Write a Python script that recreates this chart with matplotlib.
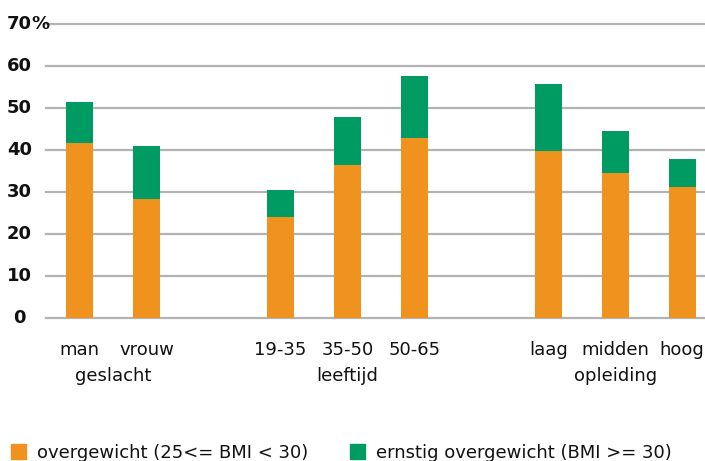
import matplotlib.pyplot as plt
import matplotlib.transforms as mtransforms
from matplotlib.patches import Patch

# categorieen en waarden (%)
labels = ["man", "vrouw", "19-35", "35-50", "50-65", "laag", "midden", "hoog"]
groepen = ["geslacht", "leeftijd", "opleiding"]
overgewicht = [41.7, 28.3, 24.0, 36.4, 42.9, 39.8, 34.5, 31.2]
ernstig = [9.7, 12.7, 6.5, 11.5, 14.7, 15.9, 10.0, 6.7]
yticks = [0, 10, 20, 30, 40, 50, 60, 70]

oranje = "#F0931E"
groen = "#009B63"
grijs = "#B3B3B5"

plt.rcParams["font.family"] = ["DejaVu Sans"]

pos = [0, 1, 3, 4, 5, 7, 8, 9]
groep_pos = [0.5, 4, 8]

fig = plt.figure(figsize=(7.05, 4.61), dpi=100)
ax = fig.add_axes([46 / 705, 143 / 461, 1 - 46 / 705, (318 - 24) / 461])

ax.bar(pos, overgewicht, width=0.4, color=oranje, zorder=3)
ax.bar(pos, ernstig, width=0.4, bottom=overgewicht, color=groen, zorder=3)

ax.set_xlim(-0.5, 9.34)
ax.set_ylim(0, 70)
for y in yticks:
    ax.axhline(y, color=grijs, lw=1.6, zorder=1, clip_on=False)

for s in ax.spines.values():
    s.set_visible(False)
ax.set_xticks([])
ax.set_yticks([])

# y-as labels
trans = mtransforms.blended_transform_factory(fig.transFigure, ax.transData)
for y in yticks:
    ax.text(19.5 / 705, y, str(y), transform=trans, ha="center", va="center",
            fontsize=13, fontweight="semibold", color="#111111")
ax.text(31 / 705, 70, "%", transform=trans, ha="left", va="center",
        fontsize=13, fontweight="semibold", color="#111111")

# x-as labels
tx = mtransforms.blended_transform_factory(ax.transData, fig.transFigure)
for p, l in zip(pos, labels):
    ax.text(p, 1 - 350 / 461, l, transform=tx, ha="center", va="center",
            fontsize=13, color="#111111")
for p, g in zip(groep_pos, groepen):
    ax.text(p, 1 - 376 / 461, g, transform=tx, ha="center", va="center",
            fontsize=13, color="#111111")

handles = [Patch(color=oranje, label="overgewicht (25<= BMI < 30)"),
           Patch(color=groen, label="ernstig overgewicht (BMI >= 30)")]
fig.legend(handles=handles, loc="lower left", bbox_to_anchor=(0.0, -0.025),
           ncol=2, frameon=False, fontsize=13, handlelength=0.85,
           handleheight=0.85, handletextpad=0.6, columnspacing=2.3,
           borderaxespad=0.2, labelcolor="#111111")

fig.savefig("out.png", dpi=100)
